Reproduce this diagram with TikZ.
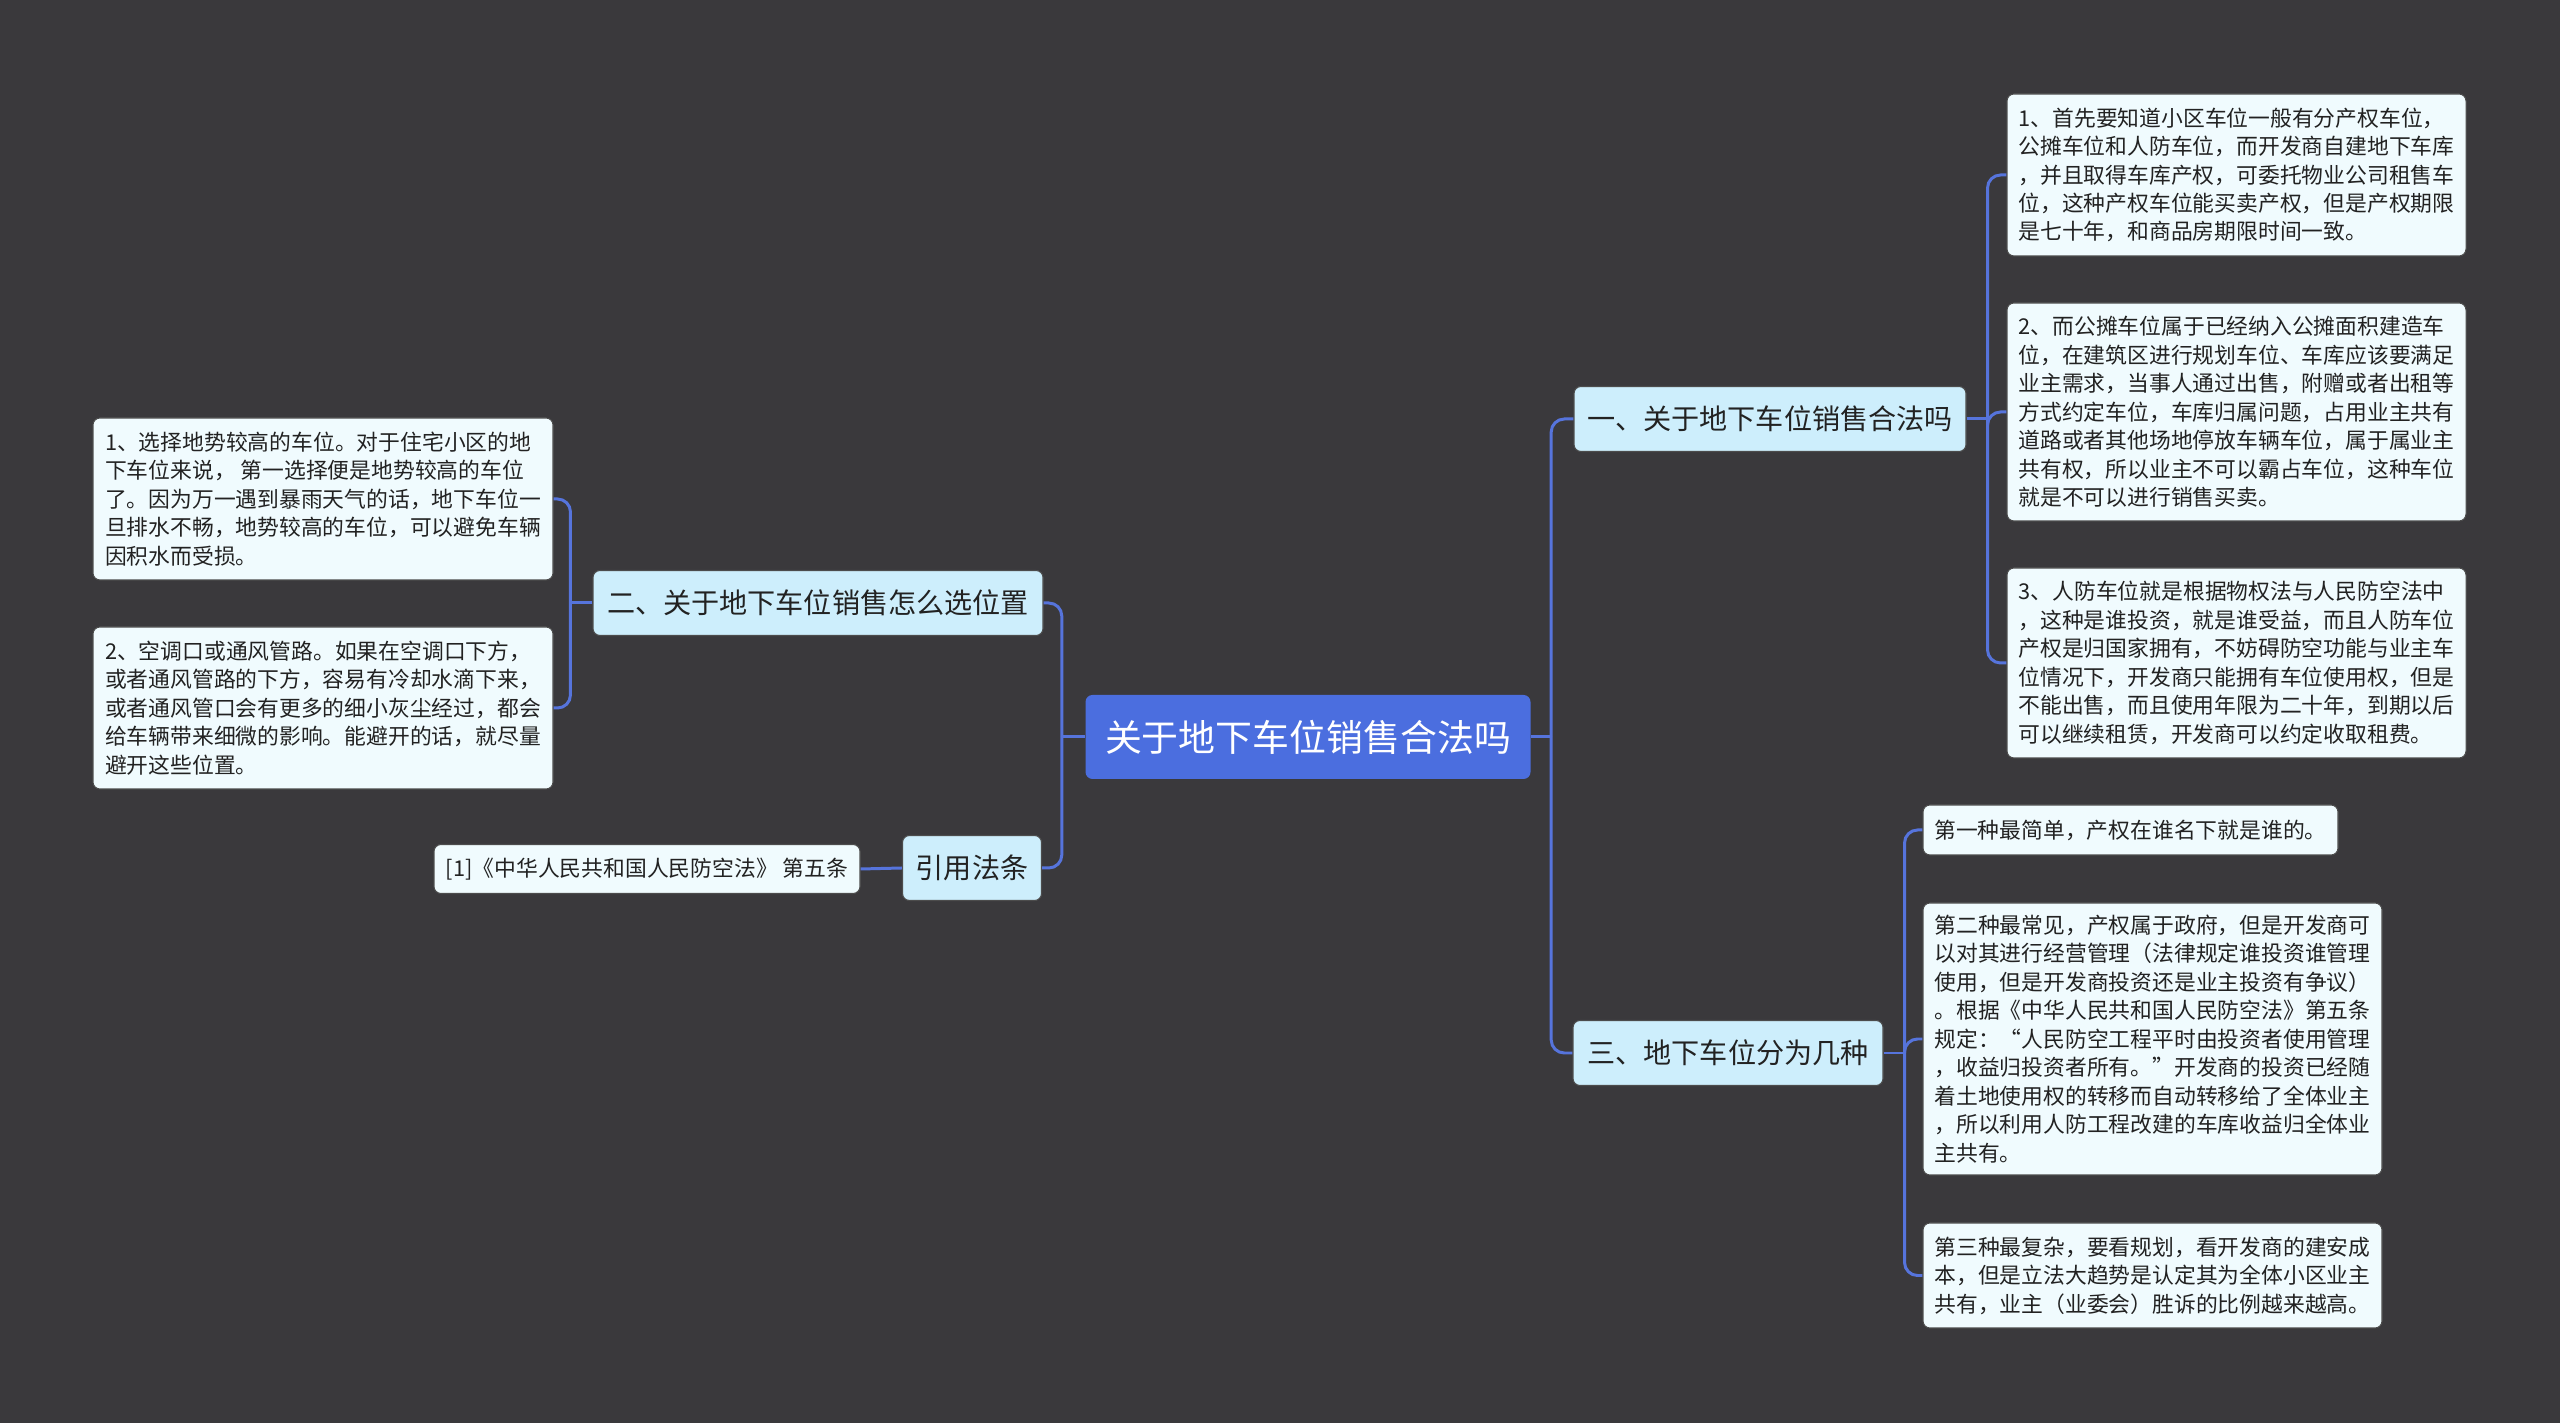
\documentclass[tikz,border=0pt]{standalone}
\usepackage{fontspec}
\setmainfont{Noto Sans CJK SC}
\usepackage{xcolor}
\usepackage{tikz}
\usetikzlibrary{positioning,calc}
\definecolor{mapbg}{HTML}{3A393C}
\definecolor{rootblue}{HTML}{4B6EDF}
\definecolor{topicblue}{HTML}{CDEEFC}
\definecolor{leafwhite}{HTML}{F0FBFE}
\definecolor{linkblue}{HTML}{5674DC}
\definecolor{inkdark}{HTML}{222222}

\begin{document}
\begin{tikzpicture}[
    x=1cm,y=1cm,
    root/.style   = {fill=rootblue, text=white, rounded corners=0.07cm,
                     font=\fontsize{10.5}{12}\selectfont,
                     minimum width=4.45cm, minimum height=0.84cm, inner sep=0pt},
    topic/.style  = {fill=topicblue, draw=black!70, line width=0.3pt,
                     text=inkdark, rounded corners=0.07cm,
                     font=\fontsize{8}{9.6}\selectfont,
                     minimum height=0.65cm, inner sep=0pt},
    leaf/.style   = {fill=leafwhite, draw=black!70, line width=0.3pt,
                     text=inkdark, rounded corners=0.07cm, align=left,
                     font=\fontsize{6.2}{8.1}\selectfont, inner sep=0pt},
    conn/.style   = {draw=linkblue, line width=0.85pt, rounded corners=0.13cm},
  ]

  \fill[mapbg] (0,0) rectangle (25.6,14.23);
  \useasboundingbox (0,0) rectangle (25.6,14.23);

  % centre
  \node[root] (root) at (13.08,6.86) {关于地下车位销售合法吗};

  % topics
  \node[topic,minimum width=3.92cm] (t1) at (17.70,10.04) {一、关于地下车位销售合法吗};
  \node[topic,minimum width=4.50cm] (t2) at (8.18,8.20)   {二、关于地下车位销售怎么选位置};
  \node[topic,minimum width=3.10cm] (t3) at (17.28,3.70)  {三、地下车位分为几种};
  \node[topic,minimum width=1.39cm] (t4) at (9.72,5.55)   {引用法条};

  % leaves of t1
  \node[leaf,minimum width=4.59cm,minimum height=1.62cm] (r1) at (22.365,12.48)
       {1、首先要知道小区车位一般有分产权车位，\\
        公摊车位和人防车位，而开发商自建地下车库\\
        ，并且取得车库产权，可委托物业公司租售车\\
        位，这种产权车位能买卖产权，但是产权期限\\
        是七十年，和商品房期限时间一致。};
  \node[leaf,minimum width=4.59cm,minimum height=2.18cm] (r2) at (22.365,10.11)
       {2、而公摊车位属于已经纳入公摊面积建造车\\
        位，在建筑区进行规划车位、车库应该要满足\\
        业主需求，当事人通过出售，附赠或者出租等\\
        方式约定车位，车库归属问题，占用业主共有\\
        道路或者其他场地停放车辆车位，属于属业主\\
        共有权，所以业主不可以霸占车位，这种车位\\
        就是不可以进行销售买卖。};
  \node[leaf,minimum width=4.59cm,minimum height=1.90cm] (r3) at (22.365,7.60)
       {3、人防车位就是根据物权法与人民防空法中\\
        ，这种是谁投资，就是谁受益，而且人防车位\\
        产权是归国家拥有，不妨碍防空功能与业主车\\
        位情况下，开发商只能拥有车位使用权，但是\\
        不能出售，而且使用年限为二十年，到期以后\\
        可以继续租赁，开发商可以约定收取租费。};

  % leaves of t3
  \node[leaf,minimum width=4.15cm,minimum height=0.50cm] (s1) at (21.305,5.93)
       {第一种最简单，产权在谁名下就是谁的。};
  \node[leaf,minimum width=4.59cm,minimum height=2.72cm] (s2) at (21.525,3.84)
       {第二种最常见，产权属于政府，但是开发商可\\
        以对其进行经营管理（法律规定谁投资谁管理\\
        使用，但是开发商投资还是业主投资有争议）\\
        。根据《中华人民共和国人民防空法》第五条\\
        规定：“人民防空工程平时由投资者使用管理\\
        ，收益归投资者所有。”开发商的投资已经随\\
        着土地使用权的转移而自动转移给了全体业主\\
        ，所以利用人防工程改建的车库收益归全体业\\
        主共有。};
  \node[leaf,minimum width=4.59cm,minimum height=1.05cm] (s3) at (21.525,1.475)
       {第三种最复杂，要看规划，看开发商的建安成\\
        本，但是立法大趋势是认定其为全体小区业主\\
        共有，业主（业委会）胜诉的比例越来越高。};

  % leaves of t2
  \node[leaf,minimum width=4.60cm,minimum height=1.62cm] (l1) at (3.23,9.24)
       {1、选择地势较高的车位。对于住宅小区的地\\
        下车位来说， 第一选择便是地势较高的车位\\
        了。因为万一遇到暴雨天气的话，地下车位一\\
        旦排水不畅，地势较高的车位，可以避免车辆\\
        因积水而受损。};
  \node[leaf,minimum width=4.60cm,minimum height=1.62cm] (l2) at (3.23,7.15)
       {2、空调口或通风管路。如果在空调口下方，\\
        或者通风管路的下方，容易有冷却水滴下来，\\
        或者通风管口会有更多的细小灰尘经过，都会\\
        给车辆带来细微的影响。能避开的话，就尽量\\
        避开这些位置。};

  % leaf of t4
  \node[leaf,minimum width=4.26cm,minimum height=0.49cm] (ref) at (6.47,5.54)
       {[1]《中华人民共和国人民防空法》 第五条};

  % branch points
  \coordinate (rb) at ($(root.east)+(0.20,0)$);
  \coordinate (lb) at ($(root.west)+(-0.23,0)$);
  \coordinate (b1) at ($(t1.east)+(0.21,0)$);
  \coordinate (b2) at ($(t2.west)+(-0.22,0)$);
  \coordinate (b3) at ($(t3.east)+(0.21,0)$);

  \draw[conn] (root.east) -- (rb);
  \draw[conn] (root.west) -- (lb);
  \foreach \c in {t1,t3} \draw[conn] (rb) |- (\c.west);
  \foreach \c in {t2,t4} \draw[conn] (lb) |- (\c.east);

  \draw[conn] (t1.east) -- (b1);
  \foreach \c in {r1,r2,r3} \draw[conn] (b1) |- (\c.west);
  \draw[conn] (t3.east) -- (b3);
  \foreach \c in {s1,s2,s3} \draw[conn] (b3) |- (\c.west);
  \draw[conn] (t2.west) -- (b2);
  \foreach \c in {l1,l2} \draw[conn] (b2) |- (\c.east);
  \draw[conn] (t4.west) -- (ref.east);

\end{tikzpicture}
\end{document}
